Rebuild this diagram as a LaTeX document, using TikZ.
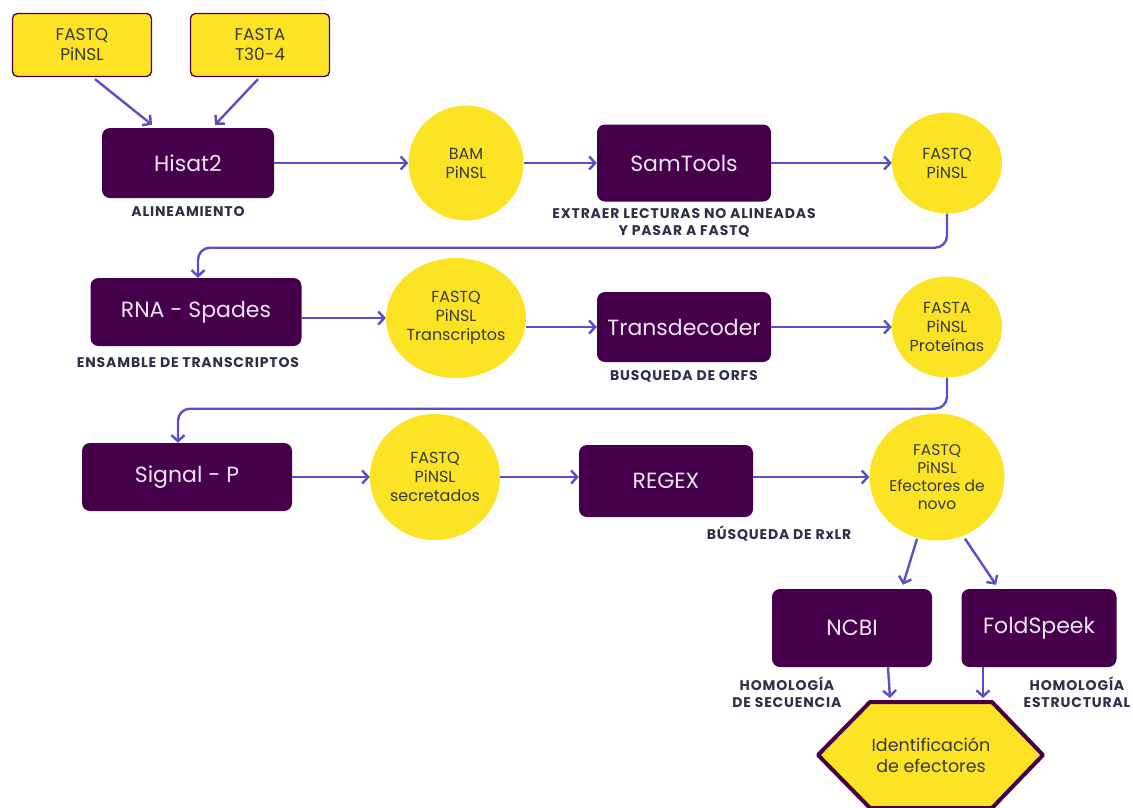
\documentclass[tikz,border=0pt]{standalone}
\usepackage{fontspec}
\setmainfont{Poppins}
\newfontfamily\tagfont{Poppins}[LetterSpace=6]
\usetikzlibrary{arrows.meta,shapes.geometric}
\definecolor{plum}{HTML}{46004B}
\definecolor{sun}{HTML}{FCE424}
\definecolor{flowc}{HTML}{5A4FC6}
\definecolor{ink}{HTML}{2C3048}
\definecolor{lilac}{HTML}{EDE3F3}
\definecolor{graytext}{HTML}{3A3A3A}

\begin{document}
\begin{tikzpicture}[x=1pt,y=-1pt,
  tool/.style={fill=plum,rounded corners=8pt,minimum width=#1,minimum height=70pt,
    text=lilac,font=\fontsize{22}{24}\selectfont},
  tool/.default=172pt,
  infile/.style={fill=sun,draw=plum,line width=1.3pt,rounded corners=5pt,
    minimum width=139pt,minimum height=63pt,align=center,text=graytext,
    font=\fontsize{17}{20}\selectfont},
  data/.style={ellipse,fill=sun,inner sep=0pt,minimum width=#1,align=center,text=graytext,
    font=\fontsize{16}{19}\selectfont},
  tag/.style={text=ink,align=center,font=\tagfont\bfseries\fontsize{14}{17.5}\selectfont},
  flow/.style={draw=flowc,line width=2.4pt,-{Straight Barb[length=6pt,width=13pt]}}]
\clip (0,0) rectangle (1133,807);

\node[infile] (fq0) at (82,45) {FASTQ\\PiNSL};
\node[infile] (fa0) at (260,45) {FASTA\\T30-4};

\node[tool] (hisat) at (188,163) {Hisat2};
\node[tag] (t1) at (188,212) {ALINEAMIENTO};
\node[data=115pt,minimum height=115pt] (bam) at (466,163) {BAM\\PiNSL};
\node[tool=174pt,minimum height=77pt] (samt) at (684,163) {SamTools};
\node[tag] (t2) at (684,223) {EXTRAER LECTURAS NO ALINEADAS\\Y PASAR A FASTQ};
\node[data=110pt,minimum height=101pt] (fq1) at (947,163) {FASTQ\\PiNSL};

\node[tool=211pt,minimum height=68pt] (rna) at (196,312) {RNA - Spades};
\node[tag] (t3) at (188,363) {ENSAMBLE DE TRANSCRIPTOS};
\node[data=133pt,minimum height=120pt] (trans) at (456,318) {FASTQ\\PiNSL\\Transcriptos};
\node[tool=174pt] (tdec) at (684,327) {Transdecoder};
\node[tag] (t4) at (684,376) {BUSQUEDA DE ORFS};
\node[data=110pt,minimum height=101pt] (prot) at (947,327) {FASTA\\PiNSL\\Proteínas};

\node[tool=210pt,minimum height=68pt] (sigp) at (187,477) {Signal - P};
\node[data=130pt,minimum height=126pt] (secr) at (435,477) {FASTQ\\PiNSL\\secretados};
\node[tool=174pt,minimum height=72pt] (regex) at (666,481) {REGEX};
\node[tag] (t5) at (779,533) {BÚSQUEDA DE RxLR};
\node[data=128pt,minimum height=127pt,font=\fontsize{15.5}{18}\selectfont] (novo) at (937,477)
  {FASTQ\\PiNSL\\Efectores de\\novo};

\node[tool=160pt,minimum height=78pt] (ncbi) at (852,628) {NCBI};
\node[tool=155pt,minimum height=78pt] (fold) at (1039,628) {FoldSpeek};
\node[tag] (t6) at (787,692) {HOMOLOGÍA\\DE SECUENCIA};
\node[tag] (t7) at (1077,692) {HOMOLOGÍA\\ESTRUCTURAL};

\draw[fill=sun,draw=plum,line width=4pt,line join=round]
  (870,702) -- (992,702) -- (1043,755) -- (992,808) -- (870,808) -- (818,755) -- cycle;
\node[text=graytext,align=center,font=\fontsize{17.5}{21}\selectfont] (ident) at (931,755)
  {Identificación\\de efectores};
\coordinate (identA) at (890,698);
\coordinate (identB) at (983,698);

\draw[flow] ([xshift=13pt,yshift=-2pt]fq0.south) -- ([xshift=-36pt,yshift=3pt]hisat.north);
\draw[flow] ([xshift=-2pt,yshift=-2pt]fa0.south) -- ([xshift=27pt,yshift=3pt]hisat.north);
\draw[flow] (hisat) -- (bam);
\draw[flow] (bam) -- (samt);
\draw[flow] (samt) -- (fq1);
\draw[flow,rounded corners=12pt] (fq1.south) -- ++(0,34) -| ([xshift=2pt]rna.north);
\draw[flow] (rna.east |- trans) -- (trans);
\draw[flow] (trans.east |- tdec) -- (tdec);
\draw[flow] (tdec) -- (prot);
\draw[flow,rounded corners=12pt] (prot.south) -- ++(0,31) -| ([xshift=-9pt]sigp.north);
\draw[flow] (sigp) -- (secr);
\draw[flow] (secr) -- (secr -| regex.west);
\draw[flow] (regex.east |- novo) -- (novo);
\draw[flow] ([xshift=-20pt,yshift=2pt]novo.south) -- ([xshift=51pt,yshift=4pt]ncbi.north);
\draw[flow] ([xshift=28pt,yshift=2pt]novo.south) -- ([xshift=-43pt,yshift=4pt]fold.north);
\draw[flow] ([xshift=36pt]ncbi.south) -- (identA);
\draw[flow] ([xshift=-56pt]fold.south) -- (identB);
\end{tikzpicture}
\end{document}
